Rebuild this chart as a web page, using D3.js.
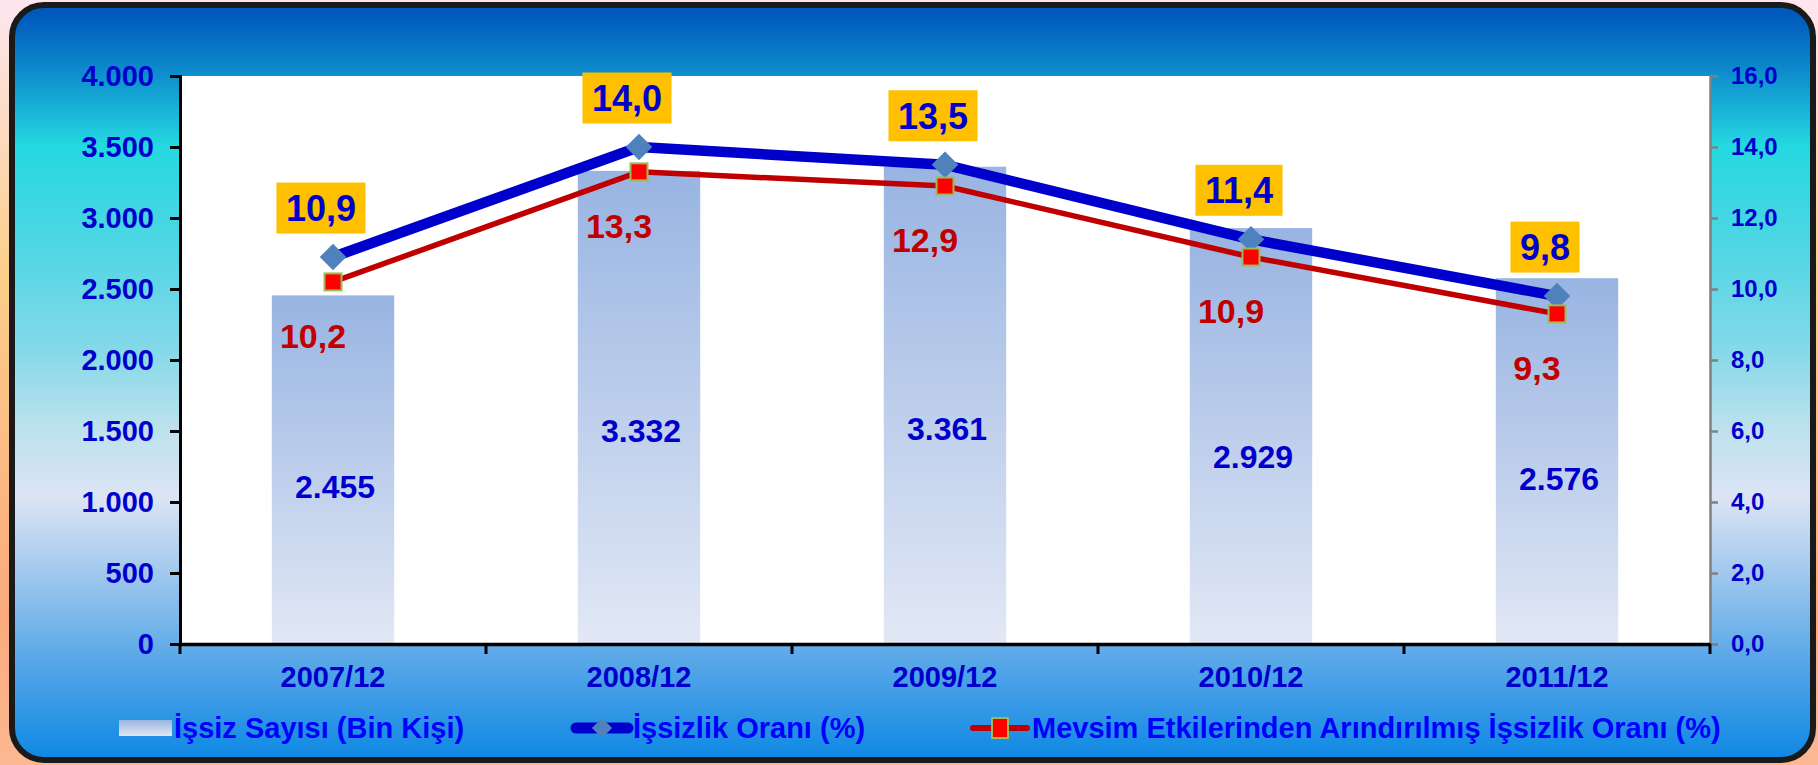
<!DOCTYPE html>
<html>
<head>
<meta charset="utf-8">
<script src="https://cdn.jsdelivr.net/npm/d3@7"></script>
<style>
  body { margin: 0; overflow: hidden; }
  svg { display: block; font-family: "Liberation Sans", Arial, sans-serif; font-weight: bold; }
</style>
</head>
<body>
<div id="chart"></div>
<script>
// chart data
const categories = ['2007/12', '2008/12', '2009/12', '2010/12', '2011/12'];
const unemployed = [2455, 3332, 3361, 2929, 2576];      // İşsiz Sayısı (Bin Kişi)
const rate = [10.9, 14.0, 13.5, 11.4, 9.8];             // İşsizlik Oranı (%)
const rateSA = [10.2, 13.3, 12.9, 10.9, 9.3];           // Mevsim Etkilerinden Arındırılmış
const leftTicks = [0, 500, 1000, 1500, 2000, 2500, 3000, 3500, 4000];
const rightTicks = [0, 2, 4, 6, 8, 10, 12, 14, 16];
const legendLabels = ['İşsiz Sayısı (Bin Kişi)', 'İşsizlik Oranı (%)', 'Mevsim Etkilerinden Arındırılmış İşsizlik Oranı (%)'];

const W = 1818, H = 765;
const plot = { left: 180, right: 1710, top: 76, bottom: 644 };

const tr = d3.formatLocale({ decimal: ',', thousands: '.', grouping: [3], currency: ['', ''] });
const fmtInt = tr.format(',');
const fmt1 = tr.format(',.1f');

const svg = d3.select('#chart').append('svg')
    .attr('width', W)
    .attr('height', H);

const defs = svg.append('defs');

// outer page background
const outerGrad = defs.append('linearGradient')
    .attr('id', 'outerGrad').attr('x1', 0).attr('y1', 0).attr('x2', 0).attr('y2', 1);
[[0, '#fde6ef'], [0.35, '#fbcf8c'], [0.8, '#fbab7c'], [1, '#fbb892']].forEach(s =>
    outerGrad.append('stop').attr('offset', s[0]).attr('stop-color', s[1]));

// chart area background
const bgGrad = defs.append('linearGradient')
    .attr('id', 'bgGrad').attr('gradientUnits', 'userSpaceOnUse')
    .attr('x1', 0).attr('y1', 0).attr('x2', 0).attr('y2', H);
[[0.02, '#005abd'], [0.08, '#0a82c9'], [0.13, '#16a8d5'], [0.19, '#24d8e0'],
 [0.33, '#52d6e4'], [0.46, '#86d9e9'], [0.56, '#bde1ed'], [0.65, '#dce4f4'],
 [0.74, '#a6cbee'], [0.86, '#5aa8e8'], [1, '#0a86e4']].forEach(s =>
    bgGrad.append('stop').attr('offset', s[0]).attr('stop-color', s[1]));

// bar fill
const barGrad = defs.append('linearGradient')
    .attr('id', 'barGrad').attr('x1', 0).attr('y1', 0).attr('x2', 0).attr('y2', 1);
barGrad.append('stop').attr('offset', 0).attr('stop-color', '#98b4e2');
barGrad.append('stop').attr('offset', 1).attr('stop-color', '#e2e8f5');

svg.append('rect').attr('width', W).attr('height', H).attr('fill', 'url(#outerGrad)');
svg.append('rect')
    .attr('x', 12).attr('y', 5)
    .attr('width', 1801).attr('height', 755)
    .attr('rx', 32)
    .attr('fill', 'url(#bgGrad)')
    .attr('stroke', '#1a1a1a')
    .attr('stroke-width', 6);

svg.append('rect')
    .attr('x', plot.left).attr('y', plot.top)
    .attr('width', plot.right - plot.left).attr('height', plot.bottom - plot.top)
    .attr('fill', '#ffffff');

// scales
const x = d3.scaleBand().domain(categories).range([plot.left, plot.right]).padding(0);
const yL = d3.scaleLinear().domain([0, 4000]).range([plot.bottom, plot.top]);
const yR = d3.scaleLinear().domain([0, 16]).range([plot.bottom, plot.top]);
const cx = c => x(c) + x.bandwidth() / 2;
const barW = x.bandwidth() * 0.4;

// bars
svg.selectAll('.bar')
    .data(categories)
    .enter()
    .append('rect')
    .attr('class', 'bar')
    .attr('x', c => cx(c) - barW / 2)
    .attr('y', (c, i) => yL(unemployed[i]))
    .attr('width', barW)
    .attr('height', (c, i) => yL(0) - yL(unemployed[i]))
    .attr('fill', 'url(#barGrad)');

// bar labels
svg.selectAll('.barLabel')
    .data(categories)
    .enter()
    .append('text')
    .attr('x', c => cx(c) + 2)
    .attr('y', (c, i) => yL(unemployed[i] * 0.45) + 11)
    .attr('text-anchor', 'middle')
    .attr('font-size', 32)
    .attr('fill', '#0000cc')
    .text((c, i) => fmtInt(unemployed[i]));

// axes
const leftAxis = svg.append('g')
    .attr('transform', `translate(${plot.left},0)`)
    .call(d3.axisLeft(yL).tickValues(leftTicks).tickFormat(fmtInt).tickSize(10).tickPadding(16));
leftAxis.select('.domain').attr('stroke', '#000').attr('stroke-width', 3);
leftAxis.selectAll('.tick line').attr('stroke', '#000').attr('stroke-width', 3);
leftAxis.selectAll('.tick text')
    .attr('font-size', 29).attr('font-family', '"Liberation Sans", Arial, sans-serif')
    .attr('font-weight', 'bold').attr('fill', '#0000cc');

const rightAxis = svg.append('g')
    .attr('transform', `translate(${plot.right},0)`)
    .call(d3.axisRight(yR).tickValues(rightTicks).tickFormat(fmt1).tickSize(8).tickPadding(13));
rightAxis.select('.domain').attr('stroke', '#808080').attr('stroke-width', 2.5);
rightAxis.selectAll('.tick line').attr('stroke', '#808080').attr('stroke-width', 2.5);
rightAxis.selectAll('.tick text')
    .attr('font-size', 24).attr('font-family', '"Liberation Sans", Arial, sans-serif')
    .attr('font-weight', 'bold').attr('fill', '#0000cc');

const bottomAxis = svg.append('g')
    .attr('transform', `translate(0,${plot.bottom})`)
    .call(d3.axisBottom(x).tickSize(0).tickPadding(22));
bottomAxis.select('.domain').attr('stroke', '#000').attr('stroke-width', 3.5);
bottomAxis.selectAll('.tick text')
    .attr('font-size', 29).attr('font-family', '"Liberation Sans", Arial, sans-serif')
    .attr('font-weight', 'bold').attr('fill', '#0000cc');
// category boundary ticks
bottomAxis.selectAll('.sep')
    .data(categories.concat([null]))
    .enter()
    .append('line')
    .attr('x1', (c, i) => i < categories.length ? x(c) : plot.right)
    .attr('x2', (c, i) => i < categories.length ? x(c) : plot.right)
    .attr('y1', 0).attr('y2', 10)
    .attr('stroke', '#000').attr('stroke-width', 3);

// lines
const line = d3.line().x(d => cx(d[0])).y(d => yR(d[1]));
const rateData = categories.map((c, i) => [c, rate[i]]);
const saData = categories.map((c, i) => [c, rateSA[i]]);

svg.append('path').datum(rateData)
    .attr('d', line).attr('fill', 'none')
    .attr('stroke', '#0000cc').attr('stroke-width', 10.5).attr('stroke-linejoin', 'round');
svg.append('path').datum(saData)
    .attr('d', line).attr('fill', 'none')
    .attr('stroke', '#c00000').attr('stroke-width', 5.5).attr('stroke-linejoin', 'round');

const diamond = d3.symbol().type(d3.symbolDiamond2).size(450);
svg.selectAll('.diamond')
    .data(rateData)
    .enter()
    .append('path')
    .attr('transform', d => `translate(${cx(d[0])},${yR(d[1])})`)
    .attr('d', diamond)
    .attr('fill', '#4f81bd');

svg.selectAll('.square')
    .data(saData)
    .enter()
    .append('rect')
    .attr('x', d => cx(d[0]) - 8.5)
    .attr('y', d => yR(d[1]) - 8.5)
    .attr('width', 17).attr('height', 17)
    .attr('fill', '#ff0000')
    .attr('stroke', '#9bbb59').attr('stroke-width', 2);

// rate labels with yellow boxes
const rateLabels = svg.selectAll('.rateLabel')
    .data(rateData)
    .enter()
    .append('g')
    .attr('transform', d => `translate(${cx(d[0]) - 12},${yR(d[1]) - 49})`);
rateLabels.append('text')
    .attr('text-anchor', 'middle')
    .attr('y', 13)
    .attr('font-size', 36)
    .attr('fill', '#0000cc')
    .text(d => fmt1(d[1]));
rateLabels.each(function() {
    const g = d3.select(this);
    const bb = g.select('text').node().getBBox();
    g.insert('rect', 'text')
        .attr('x', bb.x - 9.5).attr('y', -25.5)
        .attr('width', bb.width + 19).attr('height', 51)
        .attr('fill', '#ffc000');
});

// seasonally adjusted labels
svg.selectAll('.saLabel')
    .data(saData)
    .enter()
    .append('text')
    .attr('x', d => cx(d[0]) - 20)
    .attr('y', d => yR(d[1]) + 66)
    .attr('text-anchor', 'middle')
    .attr('font-size', 34)
    .attr('fill', '#c00000')
    .text(d => fmt1(d[1]));

// legend
const legY = 728;
const leg = svg.append('g');
leg.append('rect')
    .attr('x', 119).attr('y', legY - 8)
    .attr('width', 53).attr('height', 16)
    .attr('fill', 'url(#barGrad)');
leg.append('text').attr('x', 174).attr('y', legY + 10)
    .attr('font-size', 29).attr('fill', '#0000ff').text(legendLabels[0]);

leg.append('line')
    .attr('x1', 576).attr('x2', 628).attr('y1', legY).attr('y2', legY)
    .attr('stroke', '#0000cc').attr('stroke-width', 11).attr('stroke-linecap', 'round');
leg.append('path')
    .attr('transform', `translate(602,${legY})`)
    .attr('d', d3.symbol().type(d3.symbolDiamond2).size(260))
    .attr('fill', '#4f81bd');
leg.append('text').attr('x', 633).attr('y', legY + 10)
    .attr('font-size', 29).attr('fill', '#0000ff').text(legendLabels[1]);

leg.append('line')
    .attr('x1', 973).attr('x2', 1027).attr('y1', legY).attr('y2', legY)
    .attr('stroke', '#c00000').attr('stroke-width', 6).attr('stroke-linecap', 'round');
leg.append('rect')
    .attr('x', 1000 - 8).attr('y', legY - 10)
    .attr('width', 16).attr('height', 20)
    .attr('fill', '#ff0000').attr('stroke', '#9bbb59').attr('stroke-width', 2);
leg.append('text').attr('x', 1032).attr('y', legY + 10)
    .attr('font-size', 29).attr('fill', '#0000ff').text(legendLabels[2]);
</script>
</body>
</html>
